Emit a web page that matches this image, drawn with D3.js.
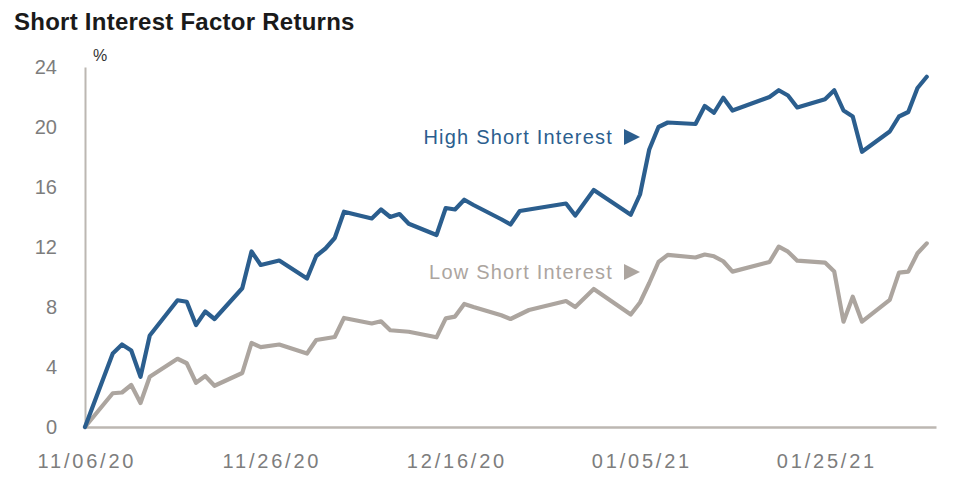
<!DOCTYPE html>
<html>
<head>
<meta charset="utf-8">
<script src="https://cdn.jsdelivr.net/npm/d3@7/dist/d3.min.js"></script>
<style>
  html, body { margin: 0; padding: 0; background: #fff; }
  svg { display: block; }
</style>
</head>
<body>
<svg id="chart" width="960" height="482"></svg>
<script>
// ---- Data ----
const dates = [
  "2020-11-06","2020-11-09","2020-11-10","2020-11-11","2020-11-12","2020-11-13",
  "2020-11-16","2020-11-17","2020-11-18","2020-11-19","2020-11-20",
  "2020-11-23","2020-11-24","2020-11-25","2020-11-27",
  "2020-11-30","2020-12-01","2020-12-02","2020-12-03","2020-12-04",
  "2020-12-07","2020-12-08","2020-12-09","2020-12-10","2020-12-11",
  "2020-12-14","2020-12-15","2020-12-16","2020-12-17","2020-12-18",
  "2020-12-21","2020-12-22","2020-12-23","2020-12-24",
  "2020-12-28","2020-12-29","2020-12-30","2020-12-31",
  "2021-01-04","2021-01-05","2021-01-06","2021-01-07","2021-01-08",
  "2021-01-11","2021-01-12","2021-01-13","2021-01-14","2021-01-15",
  "2021-01-19","2021-01-20","2021-01-21","2021-01-22",
  "2021-01-25","2021-01-26","2021-01-27","2021-01-28","2021-01-29",
  "2021-02-01","2021-02-02","2021-02-03","2021-02-04","2021-02-05"
];
const highShortInterest = [
  0, 4.9, 5.5, 5.1, 3.35, 6.1,
  8.45, 8.35, 6.8, 7.7, 7.2,
  9.25, 11.7, 10.8, 11.1,
  9.9, 11.4, 11.9, 12.6, 14.35,
  13.9, 14.5, 14.0, 14.2, 13.55,
  12.8, 14.6, 14.5, 15.15, 14.8,
  13.85, 13.5, 14.4, 14.5,
  14.9, 14.1, 14.95, 15.8,
  14.15, 15.5, 18.5, 20.0, 20.3,
  20.2, 21.4, 20.95, 21.95, 21.1,
  22.0, 22.45, 22.1, 21.3,
  21.85, 22.45, 21.1, 20.7, 18.35,
  19.7, 20.7, 21.0, 22.6, 23.35
];
const lowShortInterest = [
  0, 2.25, 2.3, 2.8, 1.6, 3.35,
  4.55, 4.25, 2.95, 3.4, 2.75,
  3.6, 5.6, 5.33, 5.5,
  4.9, 5.8, 5.9, 6.0, 7.27,
  6.9, 7.05, 6.45, 6.4, 6.35,
  5.98, 7.24, 7.36, 8.2, 8.0,
  7.45, 7.2, 7.5, 7.8,
  8.4, 8.0, 8.6, 9.2,
  7.5, 8.3, 9.6, 11.0, 11.47,
  11.3, 11.5, 11.38, 11.05, 10.36,
  11.0, 12.02, 11.69, 11.09,
  10.96, 10.36, 7.02, 8.69, 7.02,
  8.47, 10.29, 10.36, 11.58, 12.24
];
const xTickLabels = ["11/06/20","11/26/20","12/16/20","01/05/21","01/25/21"];
const yTickValues = [0, 4, 8, 12, 16, 20, 24];
const seriesNames = ["High Short Interest", "Low Short Interest"];
const seriesColors = ["#2b5e8e", "#aca59f"];
const titleText = "Short Interest Factor Returns";

// ---- Setup ----
const svg = d3.select("#chart");
const parse = d3.timeParse("%Y-%m-%d");
const parseTick = d3.timeParse("%m/%d/%y");
const fmtTick = d3.timeFormat("%m/%d/%y");
const xDates = dates.map(parse);

const x = d3.scaleTime()
  .domain([parse("2020-11-06"), parse("2021-02-06")])
  .range([85, 936]);
const y = d3.scaleLinear().domain([0, 24]).range([427, 67]);

// Title
svg.append("text")
  .attr("x", 14).attr("y", 30)
  .attr("font-family", "Liberation Sans, Arial, sans-serif")
  .attr("font-weight", "bold")
  .attr("font-size", 24)
  .attr("letter-spacing", 0.25)
  .attr("fill", "#1a1a1a")
  .text(titleText);

// % unit
svg.append("text")
  .attr("x", 100).attr("y", 61)
  .attr("text-anchor", "middle")
  .attr("font-family", "Liberation Sans, Arial, sans-serif")
  .attr("font-size", 16)
  .attr("fill", "#333")
  .text("%");

const axisColor = "#bcb7b2";
const tickColor = "#7d7d7d";

// Y axis
const yAxis = svg.append("g")
  .attr("transform", "translate(85,0)")
  .call(d3.axisLeft(y).tickValues(yTickValues).tickSize(0).tickSizeOuter(0).tickPadding(28));
yAxis.select(".domain").attr("stroke", axisColor).attr("stroke-width", 2);
yAxis.selectAll("text")
  .attr("font-family", "Liberation Sans, Arial, sans-serif")
  .attr("font-size", 20)
  .attr("fill", tickColor);

// X axis
const xAxis = svg.append("g")
  .attr("transform", "translate(0,427)")
  .call(d3.axisBottom(x)
    .tickValues(xTickLabels.map(parseTick))
    .tickFormat(fmtTick)
    .tickSize(0).tickSizeOuter(0).tickPadding(27));
xAxis.select(".domain").attr("stroke", axisColor).attr("stroke-width", 2.5);
xAxis.selectAll("text")
  .attr("font-family", "Liberation Sans, Arial, sans-serif")
  .attr("font-size", 20)
  .attr("letter-spacing", 2.8)
  .attr("dx", 1.4)
  .attr("fill", tickColor);

// Lines
const line = d3.line()
  .x((d, i) => x(xDates[i]))
  .y(d => y(d));

[lowShortInterest, highShortInterest].forEach((vals, k) => {
  const idx = k === 0 ? 1 : 0;
  svg.append("path")
    .datum(vals)
    .attr("fill", "none")
    .attr("stroke", seriesColors[idx])
    .attr("stroke-width", 4.2)
    .attr("stroke-linejoin", "round")
    .attr("stroke-linecap", "round")
    .attr("d", line);
});

// Series labels
const labelPos = [{ x: 613, y: 144, ty: 137 }, { x: 613, y: 279, ty: 272 }];
seriesNames.forEach((name, i) => {
  const p = labelPos[i];
  svg.append("text")
    .attr("x", p.x).attr("y", p.y)
    .attr("text-anchor", "end")
    .attr("font-family", "Liberation Sans, Arial, sans-serif")
    .attr("font-size", 20)
    .attr("letter-spacing", 1.2)
    .attr("fill", seriesColors[i])
    .text(name);
  svg.append("path")
    .attr("d", `M${p.x + 11},${p.ty - 8}L${p.x + 27},${p.ty}L${p.x + 11},${p.ty + 8}Z`)
    .attr("fill", seriesColors[i]);
});
</script>
</body>
</html>
